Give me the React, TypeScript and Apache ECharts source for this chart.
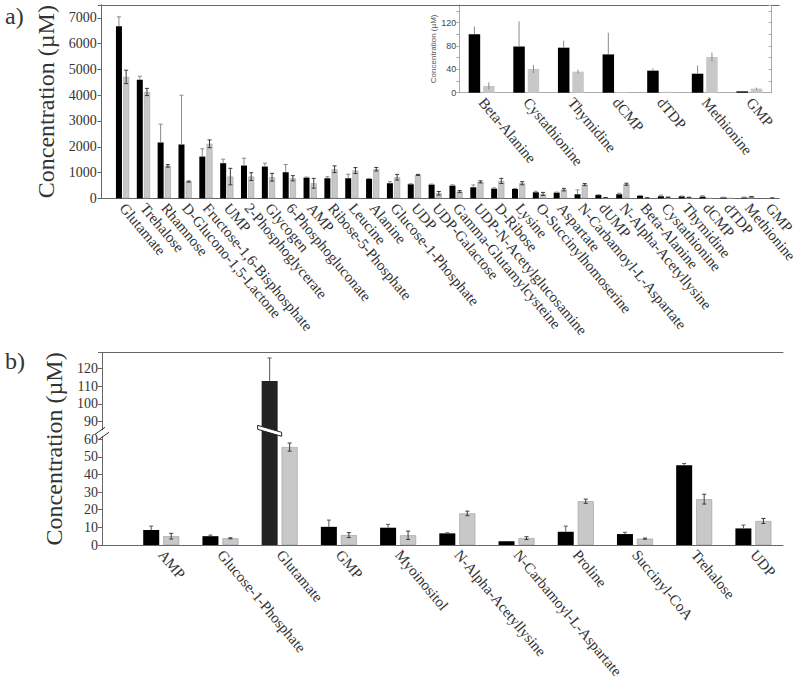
import React, { useEffect, useRef } from 'react';
import * as echarts from 'echarts';

// ---------- data ----------
const topCategories = [
  'Glutamate', 'Trehalose', 'Rhamnose', 'D-Glucono-1,5-Lactone', 'Fructose-1,6-Bisphosphate',
  'UMP', '2-Phosphoglycerate', 'Glycogen', '6-Phosphogluconate', 'AMP', 'Ribose-5-Phosphate',
  'Leucine', 'Alanine', 'Glucose-1-Phosphate', 'UDP', 'UDP-Galactose', 'Gamma-Glutamylcysteine',
  'UDP-N-Acetylglucosamine', 'D-Ribose', 'Lysine', 'O-Succinylhomoserine', 'Aspartate',
  'N-Carbamoyl-L-Aspartate', 'dUMP', 'N-Alpha-Acetyllysine', 'Beta-Alanine', 'Cystathionine',
  'Thymidine', 'dCMP', 'dTDP', 'Methionine', 'GMP',
];
const topBlack = [6680, 4600, 2166, 2088, 1620, 1362, 1271, 1232, 1012, 804, 778, 778, 752, 584, 545, 532, 493, 428, 376, 363, 233, 220, 156, 130, 156, 100, 79, 77, 65.5, 37.7, 32.5, 2.3];
const topBlackErr = [360, 135, 710, 1910, 300, 155, 285, 130, 300, 20, 60, 155, 20, 60, 20, 20, 30, 90, 30, 20, 40, 20, 170, 10, 40, 13, 43, 12, 37, 4, 14, 0];
const topGray = [4710, 4125, 1258, 650, 2114, 843, 843, 817, 778, 584, 1128, 1076, 1128, 817, 908, 195, 260, 636, 674, 584, 169, 337, 532, 26, 545, 11.6, 40.6, 36, 1, 1.5, 61, 7];
const topGrayErr = [260, 140, 50, 20, 150, 320, 150, 150, 100, 190, 130, 115, 70, 110, 20, 70, 40, 40, 100, 60, 60, 50, 40, 5, 40, 6, 7, 3.5, 0, 0, 7.5, 1.7];

const insetCategories = ['Beta-Alanine', 'Cystathionine', 'Thymidine', 'dCMP', 'dTDP', 'Methionine', 'GMP'];
const insetBlack = [100, 79, 77, 65.5, 37.7, 32.5, 2.3];
const insetBlackErr = [13, 43, 12, 37, 4, 14, 0];
const insetGray = [11.6, 40.6, 36, 1, 1.5, 61, 7];
const insetGrayErr = [6, 7, 3.5, 0, 0, 7.5, 1.7];

const bottomCategories = [
  'AMP', 'Glucose-1-Phosphate', 'Glutamate', 'GMP', 'Myoinositol', 'N-Alpha-Acetyllysine',
  'N-Carbamoyl-L-Aspartate', 'Proline', 'Succinyl-CoA', 'Trehalose', 'UDP',
];
const bottomBlack = [8.5, 5, 113, 10.3, 9.8, 6.6, 2.1, 7.5, 6.2, 45.2, 9.4];
const bottomBlackErr = [2.2, 0.6, 13, 3.8, 1.9, 0.3, 0, 3.2, 1, 1, 1.9];
const bottomGray = [5, 3.8, 55.5, 5.6, 5.5, 17.9, 3.9, 24.8, 3.6, 26, 13.6];
const bottomGrayErr = [1.6, 0.3, 2.3, 1.4, 2.4, 1.3, 0.8, 1.2, 0.3, 2.8, 1.4];

// broken axis in panel b: values above 60 are shifted down by 20 (60 ... 90 gap)
const BREAK_AT = 60;
const BREAK_SHIFT = 20;
const toDisp = (v: number) => (v > BREAK_AT ? v - BREAK_SHIFT : v);
const dispLabel = (d: number) => (d <= BREAK_AT ? String(d) : String(d + BREAK_SHIFT));

// ---------- styles ----------
const SERIF = 'Liberation Serif';
const SANS = 'Liberation Sans';
const TXT = '#333';
const FRAME = '#666';
const INSET_AX = '#aaa';
const BLACK = '#000';
const GRAY = '#c8c8c8';
const GRAY_EDGE = '#9a9a9a';
const ERR_B = '#8a8a8a';
const ERR_G = '#3a3a3a';
const ROT = -50;
const XFS = 15;

const TOP_BW = 6, TOP_GAP = 0.2;
const INS_BW = 11.5, INS_GAP = 0.25;
const BOT_BW = 16, BOT_GAP = 0.25;

function errSeries(xIdx: number, yIdx: number, data: number[][], offset: number, color: string, capBottom: boolean, cap: number) {
  return {
    type: 'custom',
    xAxisIndex: xIdx,
    yAxisIndex: yIdx,
    silent: true,
    z: 5,
    data,
    encode: { x: 0, y: [1, 2] },
    renderItem: (_params: any, api: any) => {
      const x = api.value(0);
      const lo = api.value(1);
      const hi = api.value(2);
      if (!(hi > lo)) return null;
      const a = api.coord([x, lo]);
      const b = api.coord([x, hi]);
      const cx = a[0] + offset;
      const style = { stroke: color, lineWidth: 1 };
      const children: any[] = [
        { type: 'line', shape: { x1: cx, y1: a[1], x2: cx, y2: b[1] }, style },
        { type: 'line', shape: { x1: cx - cap, y1: b[1], x2: cx + cap, y2: b[1] }, style },
      ];
      if (capBottom) children.push({ type: 'line', shape: { x1: cx - cap, y1: a[1], x2: cx + cap, y2: a[1] }, style });
      return { type: 'group', children };
    },
  };
}

export default function App() {
  const ref = useRef<HTMLDivElement>(null);
  useEffect(() => {
    document.body.style.margin = '0';
    if (!ref.current) return;
    const chart = echarts.init(ref.current, undefined, { renderer: 'svg' });

    const topOff = (TOP_BW * (1 + TOP_GAP)) / 2;
    const insOff = (INS_BW * (1 + INS_GAP)) / 2;
    const botOff = (BOT_BW * (1 + BOT_GAP)) / 2;

    const frameX = (gridIndex: number, max: number, position: string, labels: string[] | null, margin: number) => ({
      type: 'value', gridIndex, min: 0, max, interval: 1, position,
      axisLine: { show: true, onZero: false, lineStyle: { color: FRAME, width: 1 } },
      axisTick: { show: false },
      splitLine: { show: false },
      axisLabel: labels
        ? {
            show: true, rotate: ROT, margin, color: TXT, fontFamily: SERIF, fontSize: XFS,
            formatter: (v: number) => (Number.isInteger(v) && v >= 1 && v <= labels.length ? labels[v - 1] : ''),
          }
        : { show: false },
    });

    const option: any = {
      animation: false,
      backgroundColor: '#fff',
      grid: [
        { left: 101.7, right: 17, top: 5, height: 193.3 },
        { left: 459.3, right: 28.3, top: 5, height: 87.7 },
        { left: 102, right: 17, top: 352.7, height: 192.3 },
      ],
      xAxis: [
        frameX(0, topCategories.length + 0.5, 'bottom', topCategories, 7),
        {
          type: 'category', gridIndex: 1, data: insetCategories,
          axisLine: { show: true, lineStyle: { color: INSET_AX } },
          axisTick: { show: false },
          axisLabel: { interval: 0, rotate: ROT, margin: 7, color: TXT, fontFamily: SERIF, fontSize: XFS },
        },
        frameX(2, bottomCategories.length + 0.5, 'bottom', bottomCategories, 7),
        frameX(0, topCategories.length + 0.5, 'top', null, 0),
        frameX(2, bottomCategories.length + 0.5, 'top', null, 0),
      ],
      yAxis: [
        {
          type: 'value', gridIndex: 0, min: 0, max: 7500, interval: 1000, position: 'left',
          name: 'Concentration (µM)', nameLocation: 'middle', nameRotate: 90, nameGap: 33,
          nameTextStyle: { fontFamily: SERIF, fontSize: 24, color: TXT },
          axisLine: { show: true, lineStyle: { color: FRAME } },
          axisTick: { show: true, inside: false, length: 4, lineStyle: { color: FRAME } },
          axisLabel: { margin: 5, color: TXT, fontFamily: SERIF, fontSize: 14, showMaxLabel: false, formatter: (v: number) => String(v) },
          splitLine: { show: false },
        },
        {
          type: 'value', gridIndex: 0, min: 0, max: 7500, interval: 1000, position: 'right',
          axisLine: { show: true, lineStyle: { color: FRAME } },
          axisTick: { show: true, inside: true, length: 4, lineStyle: { color: FRAME } },
          axisLabel: { show: false },
          splitLine: { show: false },
        },
        {
          type: 'value', gridIndex: 1, min: 0, max: 150, interval: 20, position: 'left',
          name: 'Concentration (µM)', nameLocation: 'middle', nameRotate: 90, nameGap: 19,
          nameTextStyle: { fontFamily: SANS, fontSize: 8, color: '#555' },
          axisLine: { show: true, lineStyle: { color: INSET_AX } },
          axisTick: { show: true, inside: false, length: 3, lineStyle: { color: INSET_AX } },
          axisLabel: {
            margin: 3, color: '#444', fontFamily: SANS, fontSize: 9, showMaxLabel: false,
            formatter: (v: number) => (v % 40 === 0 ? String(v) : ''),
          },
          splitLine: { show: false },
        },
        {
          type: 'value', gridIndex: 1, min: 0, max: 150, interval: 20, position: 'right',
          axisLine: { show: true, lineStyle: { color: INSET_AX } },
          axisTick: { show: true, inside: true, length: 3, lineStyle: { color: INSET_AX } },
          axisLabel: { show: false },
          splitLine: { show: false },
        },
        {
          type: 'value', gridIndex: 2, min: 0, max: 109, interval: 10, position: 'left',
          name: 'Concentration (µM)', nameLocation: 'middle', nameRotate: 90, nameGap: 33,
          nameTextStyle: { fontFamily: SERIF, fontSize: 24, color: TXT },
          axisLine: { show: true, lineStyle: { color: FRAME } },
          axisTick: { show: true, inside: false, length: 4, lineStyle: { color: FRAME } },
          axisLabel: {
            margin: 4, color: TXT, fontFamily: SERIF, fontSize: 14, showMaxLabel: false,
            formatter: (v: number) => dispLabel(v),
          },
          splitLine: { show: false },
        },
        {
          type: 'value', gridIndex: 2, min: 0, max: 109, interval: 10, position: 'right',
          axisLine: { show: true, lineStyle: { color: FRAME } },
          axisTick: { show: true, inside: true, length: 4, lineStyle: { color: FRAME } },
          axisLabel: { show: false },
          splitLine: { show: false },
        },
      ],
      series: [
        // panel a, main
        {
          type: 'bar', xAxisIndex: 0, yAxisIndex: 0, barWidth: TOP_BW, barGap: `${TOP_GAP * 100}%`,
          itemStyle: { color: BLACK },
          data: topBlack.map((v, i) => [i + 1, v]),
        },
        {
          type: 'bar', xAxisIndex: 0, yAxisIndex: 0, barWidth: TOP_BW, barGap: `${TOP_GAP * 100}%`,
          itemStyle: { color: GRAY, borderColor: GRAY_EDGE, borderWidth: 0.5 },
          data: topGray.map((v, i) => [i + 1, v]),
        },
        errSeries(0, 0, topBlack.map((v, i) => [i + 1, v, v + topBlackErr[i]]), -topOff, ERR_B, false, 2),
        errSeries(0, 0, topGray.map((v, i) => [i + 1, v - topGrayErr[i], v + topGrayErr[i]]), topOff, ERR_G, true, 2),
        // panel a, inset
        {
          type: 'bar', xAxisIndex: 1, yAxisIndex: 2, barWidth: INS_BW, barGap: `${INS_GAP * 100}%`,
          itemStyle: { color: BLACK },
          data: insetBlack,
        },
        {
          type: 'bar', xAxisIndex: 1, yAxisIndex: 2, barWidth: INS_BW, barGap: `${INS_GAP * 100}%`,
          itemStyle: { color: GRAY },
          data: insetGray,
        },
        errSeries(1, 2, insetBlack.map((v, i) => [i, v, v + insetBlackErr[i]]), -insOff, ERR_B, false, 0),
        errSeries(1, 2, insetGray.map((v, i) => [i, v - insetGrayErr[i], v + insetGrayErr[i]]), insOff, ERR_B, false, 0),
        // panel b
        {
          type: 'bar', xAxisIndex: 2, yAxisIndex: 4, barWidth: BOT_BW, barGap: `${BOT_GAP * 100}%`,
          data: bottomBlack.map((v, i) => ({
            value: [i + 1, toDisp(v)],
            itemStyle: { color: v > BREAK_AT ? '#222' : BLACK },
          })),
        },
        {
          type: 'bar', xAxisIndex: 2, yAxisIndex: 4, barWidth: BOT_BW, barGap: `${BOT_GAP * 100}%`,
          itemStyle: { color: GRAY, borderColor: GRAY_EDGE, borderWidth: 0.6 },
          data: bottomGray.map((v, i) => [i + 1, toDisp(v)]),
        },
        errSeries(2, 4, bottomBlack.map((v, i) => [i + 1, toDisp(v), toDisp(v + bottomBlackErr[i])]), -botOff, '#555', false, 2),
        errSeries(2, 4, bottomGray.map((v, i) => [i + 1, toDisp(v - bottomGrayErr[i]), toDisp(v + bottomGrayErr[i])]), botOff, ERR_G, true, 2),
      ],
    };
    chart.setOption(option);

    // break marks and panel letters
    const axX = chart.convertToPixel({ xAxisIndex: 2 } as any, 0) as number;
    const yBreak = chart.convertToPixel({ yAxisIndex: 4 } as any, 63.3) as number;
    const glutIdx = bottomBlack.findIndex((v) => v > BREAK_AT) + 1;
    const barCx = (chart.convertToPixel({ xAxisIndex: 2 } as any, glutIdx) as number) - botOff;
    const hw = BOT_BW / 2 + 4;
    chart.setOption({
      graphic: [
        { type: 'text', left: 5, top: 4, style: { text: 'a)', font: `24px ${SERIF}`, fill: TXT } },
        { type: 'text', left: 5, top: 349, style: { text: 'b)', font: `24px ${SERIF}`, fill: TXT } },
        { type: 'rect', shape: { x: axX - 2, y: yBreak - 3, width: 4, height: 6 }, style: { fill: '#fff' }, z: 100 },
        { type: 'line', shape: { x1: axX - 7, y1: yBreak + 1, x2: axX + 3, y2: yBreak - 6 }, style: { stroke: '#333', lineWidth: 1 }, z: 101 },
        { type: 'line', shape: { x1: axX - 3, y1: yBreak + 6, x2: axX + 7, y2: yBreak - 1 }, style: { stroke: '#333', lineWidth: 1 }, z: 101 },
        {
          type: 'polygon', z: 100,
          shape: { points: [[barCx - hw, yBreak - 8], [barCx + hw, yBreak - 1], [barCx + hw, yBreak + 3], [barCx - hw, yBreak - 4]] },
          style: { fill: '#fff', stroke: '#222', lineWidth: 1 },
        },
      ],
    });

    return () => chart.dispose();
  }, []);
  return <div ref={ref} style={{ width: 800, height: 682 }} />;
}
